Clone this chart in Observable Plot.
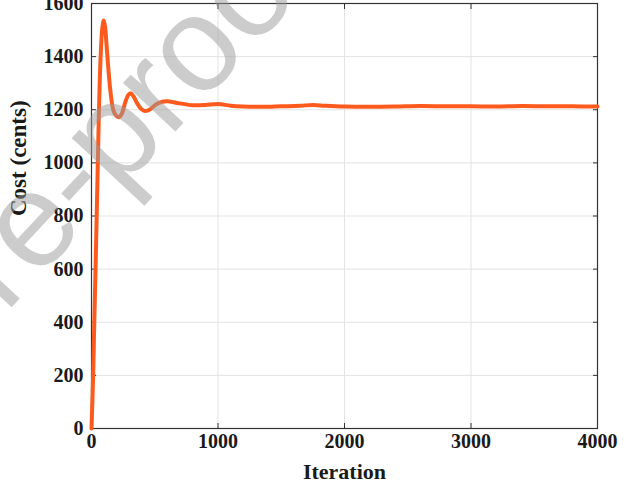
<!DOCTYPE html>
<html>
<head>
<meta charset="utf-8">
<script src="https://cdn.jsdelivr.net/npm/d3@7"></script>
<script src="https://cdn.jsdelivr.net/npm/@observablehq/plot@0.6"></script>
<style>
  html, body { margin: 0; padding: 0; background: #fff; overflow: hidden; }
  #chart { position: relative; width: 625px; height: 488px; }
</style>
</head>
<body>
<div id="chart"></div>
<script>
const iterations = [0, 13, 22, 32, 41, 50, 58, 66, 76, 86, 97, 108, 118, 129, 145, 160, 175, 195, 216, 240, 265, 290, 308, 330, 360, 395, 427, 465, 510, 560, 600, 650, 700, 800, 900, 1000, 1100, 1200, 1350, 1500, 1650, 1750, 1850, 2000, 2200, 2400, 2600, 2800, 3000, 3200, 3400, 3600, 3800, 4000];
const costs =      [0, 200, 400, 600, 800, 1000, 1180, 1320, 1440, 1510, 1536, 1510, 1450, 1380, 1290, 1230, 1195, 1178, 1172, 1185, 1225, 1255, 1262, 1252, 1225, 1202, 1195, 1202, 1220, 1230, 1232, 1228, 1224, 1217, 1218, 1222, 1215, 1212, 1211, 1213, 1215, 1218, 1215, 1212, 1211, 1212, 1214, 1213, 1213, 1212, 1214, 1213, 1213, 1212];
const xTicks = [0, 1000, 2000, 3000, 4000];
const yTicks = [0, 200, 400, 600, 800, 1000, 1200, 1400, 1600];
const xLabel = "Iteration";
const yLabel = "Cost (cents)";
const watermarkBefore = "Journal Pr";
const watermarkAfter = "e-proof";

const data = iterations.map((x, i) => ({x, y: costs[i]}));
const fmt = d => String(d);

const plot = Plot.plot({
  width: 625,
  height: 488,
  marginLeft: 91,
  marginRight: 28,
  marginTop: 3,
  marginBottom: 60,
  style: {fontFamily: "'Liberation Serif', 'Times New Roman', serif", fontWeight: "bold", fontSize: "20px", color: "#1a1a1a", background: "white"},
  x: {domain: [0, 4000]},
  y: {domain: [0, 1600]},
  marks: [
    Plot.gridX(xTicks, {stroke: "#e3e3e3", strokeOpacity: 1}),
    Plot.gridY(yTicks, {stroke: "#e3e3e3", strokeOpacity: 1}),
    Plot.axisX(xTicks, {anchor: "bottom", tickSize: -5, tickPadding: 10, tickFormat: fmt, label: null, stroke: "#333", fill: "#1a1a1a"}),
    Plot.axisX(xTicks, {anchor: "top", tickSize: -5, tickFormat: () => "", label: null, stroke: "#333"}),
    Plot.axisY(yTicks, {anchor: "left", tickSize: -5, tickPadding: 13, tickFormat: fmt, label: null, stroke: "#333", fill: "#1a1a1a"}),
    Plot.axisY(yTicks, {anchor: "right", tickSize: -5, tickFormat: () => "", label: null, stroke: "#333"}),
    Plot.frame({stroke: "#333", strokeWidth: 1.2}),
    Plot.line(data, {x: "x", y: "y", stroke: "#ff5a1e", strokeWidth: 4, curve: "catmull-rom", strokeLinejoin: "round"}),
    Plot.text([xLabel], {frameAnchor: "bottom", dy: 50, fontSize: 22, fontWeight: "bold", fill: "#1a1a1a"}),
    Plot.text([yLabel], {frameAnchor: "left", dx: -73, rotate: -90, fontSize: 23, fontWeight: "bold", fill: "#1a1a1a"})
  ]
});

document.getElementById("chart").appendChild(plot);

// watermark overlay
const svg = d3.select(plot);
const angle = -47;
const sx = 36, sy = 281;
const wm = svg.append("g")
  .attr("transform", `translate(${sx},${sy}) rotate(${angle})`)
  .attr("fill", "#9a9a9a")
  .attr("fill-opacity", 0.5)
  .style("font-family", "'Liberation Sans', Arial, sans-serif")
  .style("font-weight", "normal")
  .style("font-size", "135px");
wm.append("text").attr("text-anchor", "end").text(watermarkBefore);
wm.append("text").attr("text-anchor", "start").text(watermarkAfter);
</script>
</body>
</html>
